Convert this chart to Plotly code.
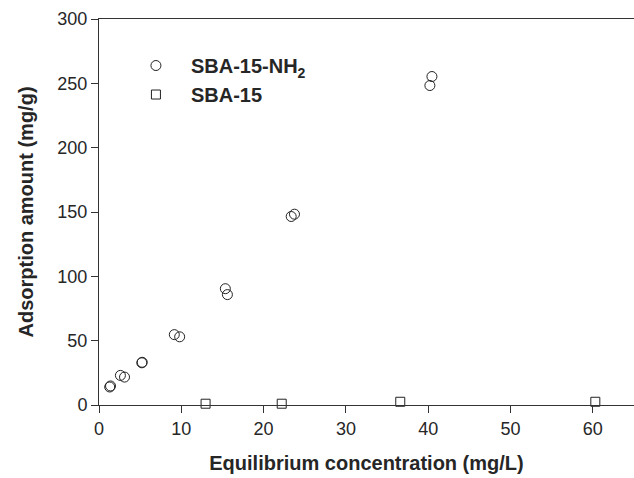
import plotly.graph_objects as go

# SBA-15-NH2 (circles)
nh2_x = [1.3, 1.4, 2.6, 3.1, 5.2, 5.25, 9.15, 9.8, 15.35, 15.6, 23.35, 23.75, 40.2, 40.45]
nh2_y = [14.0, 14.8, 23.0, 21.7, 32.8, 33.2, 54.7, 53.0, 90.4, 85.8, 146.5, 148.3, 248.3, 255.3]

# SBA-15 (squares)
sba_x = [12.95, 22.2, 36.6, 60.3]
sba_y = [1.0, 1.0, 2.5, 2.5]

x_ticks = [0, 10, 20, 30, 40, 50, 60]
y_ticks = [0, 50, 100, 150, 200, 250, 300]

line_col = "#333333"
text_col = "#262626"

fig = go.Figure()
fig.add_trace(go.Scatter(
    x=nh2_x, y=nh2_y, mode="markers", name="SBA-15-NH<sub>2</sub>",
    marker=dict(symbol="circle-open", size=10, color="#222222", line=dict(width=1)),
    cliponaxis=False,
))
fig.add_trace(go.Scatter(
    x=sba_x, y=sba_y, mode="markers", name="SBA-15",
    marker=dict(symbol="square", size=9, color="white", line=dict(width=1, color="#222222")),
    cliponaxis=False,
))

fig.update_layout(
    width=634, height=478,
    margin=dict(l=99, r=0, t=19, b=73),
    plot_bgcolor="white", paper_bgcolor="white",
    font=dict(family="Liberation Sans, Arial, sans-serif", color=text_col, size=18),
    showlegend=True,
    legend=dict(
        x=0.041, y=0.93, xanchor="left", yanchor="top",
        bgcolor="rgba(0,0,0,0)", borderwidth=0,
        font=dict(size=20, color=text_col, family="Liberation Sans, Arial, sans-serif", weight="bold"),
        itemwidth=60, tracegroupgap=6,
    ),
    xaxis=dict(
        range=[0, 65], tickvals=x_ticks, showgrid=False, zeroline=False,
        showline=True, linecolor=line_col, linewidth=1, mirror=True,
        ticks="outside", ticklen=7, tickwidth=1, tickcolor=line_col,
        tickfont=dict(size=18, color=text_col),
        title=dict(text="Equilibrium concentration (mg/L)", standoff=18,
                   font=dict(size=20, color=text_col, weight="bold")),
    ),
    yaxis=dict(
        range=[0, 300], tickvals=y_ticks, showgrid=False, zeroline=False,
        showline=True, linecolor=line_col, linewidth=1,
        ticks="outside", ticklen=7, tickwidth=1, tickcolor=line_col,
        tickfont=dict(size=18, color=text_col),
        title=dict(text="Adsorption amount (mg/g)", standoff=18,
                   font=dict(size=20, color=text_col, weight="bold")),
    ),
)

fig.write_html("out.html")
